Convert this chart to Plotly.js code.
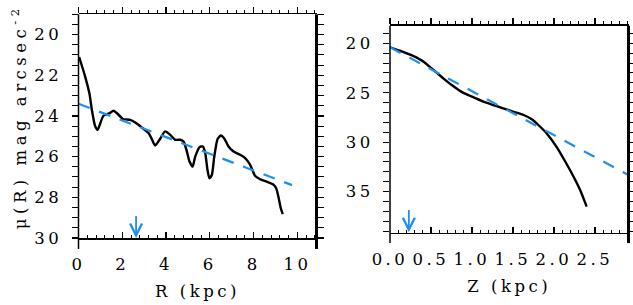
<!DOCTYPE html>
<html>
<head>
<meta charset="utf-8">
<script src="https://cdn.plot.ly/plotly-3.0.1.min.js"></script>
<style>
  html, body { margin: 0; padding: 0; background: #fff; }
  #chart { width: 633px; height: 305px; }
  .main-svg text { letter-spacing: 3.5px; }
  .main-svg .annotation-text { letter-spacing: 4.5px; }
</style>
</head>
<body>
<div id="chart"></div>
<script>
// ---- data ----
// Left panel: radial surface-brightness profile
const R = [0.03, 0.3, 0.5, 0.61, 0.76, 0.87, 1.14, 1.42, 1.6, 1.78, 2.03, 2.36, 2.59, 2.9, 3.2, 3.35, 3.5, 3.7, 3.96, 4.19, 4.42, 4.64, 4.8, 4.95, 5.07, 5.21, 5.33, 5.53, 5.68, 5.79, 5.89, 5.98, 6.09, 6.2, 6.35, 6.5, 6.65, 6.85, 7.08, 7.38, 7.61, 7.84, 8.07, 8.3, 8.6, 8.88, 9.03, 9.13, 9.24, 9.33];
const muR = [21.1, 22.05, 22.9, 23.7, 24.5, 24.68, 23.99, 23.86, 23.74, 23.89, 24.15, 24.19, 24.32, 24.57, 24.84, 25.14, 25.45, 25.17, 24.76, 24.93, 25.17, 25.17, 25.26, 25.75, 26.24, 26.49, 26.0, 25.53, 25.5, 25.83, 26.65, 27.06, 26.9, 26.0, 25.14, 24.96, 25.09, 25.5, 25.75, 25.91, 26.07, 26.4, 26.95, 27.11, 27.23, 27.36, 27.55, 27.97, 28.54, 28.83];
const fitR = [0, 9.75];
const fitMuR = [23.4, 27.4];
const arrowR = 2.63;

// Right panel: vertical surface-brightness profile
const Z = [0, 0.12, 0.28, 0.41, 0.53, 0.65, 0.77, 0.89, 1.02, 1.14, 1.26, 1.38, 1.5, 1.63, 1.73, 1.81, 1.91, 2.03, 2.15, 2.24, 2.32, 2.4];
const muZ = [20.4, 20.75, 21.28, 21.86, 22.7, 23.54, 24.32, 24.99, 25.46, 25.9, 26.24, 26.57, 26.91, 27.25, 27.68, 28.26, 29.1, 30.45, 32.13, 33.49, 34.83, 36.52];
const fitZ = [0, 2.95];
const fitMuZ = [20.4, 33.5];
const arrowZ = 0.23;

// labels
const yTitleLeft = "μ(R) mag arcsec<sup>-2</sup>";
const xTitleLeft = "R (kpc)";
const xTitleRight = "Z (kpc)";

// ---- styling ----
const BLUE = "#1e8ff0";
const FONT = { family: "DejaVu Serif", size: 16.5, color: "#000" };

const traces = [
  { x: R, y: muR, xaxis: "x", yaxis: "y", mode: "lines",
    line: { color: "#000", width: 2.4, shape: "spline", smoothing: 0.6 }, hoverinfo: "skip" },
  { x: fitR, y: fitMuR, xaxis: "x", yaxis: "y", mode: "lines",
    line: { color: BLUE, width: 2.2, dash: "12px,10px" }, hoverinfo: "skip" },
  { x: Z, y: muZ, xaxis: "x2", yaxis: "y2", mode: "lines",
    line: { color: "#000", width: 2.4, shape: "spline", smoothing: 0.6 }, hoverinfo: "skip" },
  { x: fitZ, y: fitMuZ, xaxis: "x2", yaxis: "y2", mode: "lines",
    line: { color: BLUE, width: 2.2, dash: "12px,10px" }, hoverinfo: "skip" },
  // invisible carriers for the top (outward-tick) axes
  { x: [null], y: [null], xaxis: "x3", yaxis: "y", mode: "lines", hoverinfo: "skip" },
  { x: [null], y: [null], xaxis: "x4", yaxis: "y2", mode: "lines", hoverinfo: "skip" }
];

const xL = [78.5 / 633, 316.5 / 633];
const yL = [(305 - 238) / 305, (305 - 14.3) / 305];
const xRd = [390 / 633, 628.5 / 633];
const yRd = [(305 - 232.7) / 305, (305 - 25.7) / 305];

const rangeXL = [0, 10.87];
const rangeYL = [30, 19];
const rangeXR = [0, 2.91];
const rangeYR = [39.15, 18.22];

function bottomAxis(domain, range, dtick, minorDtick, anchor, title, fmt) {
  return {
    domain: domain, range: range, anchor: anchor, autorange: false,
    dtick: dtick, tick0: 0, tickformat: fmt || "",
    ticks: "inside", ticklen: 6, tickwidth: 1.2, tickcolor: "#000",
    minor: { dtick: minorDtick, tick0: 0, ticks: "inside", ticklen: 3, tickwidth: 1, tickcolor: "#000" },
    showline: true, linecolor: "#000", linewidth: 1.5,
    showgrid: false, zeroline: false, automargin: false,
    tickfont: FONT, ticklabelstandoff: 11,
    title: { text: title, font: FONT, standoff: 12 }
  };
}
function topAxis(range, dtick, minorDtick, anchor, overlay) {
  return {
    overlaying: overlay, side: "top", anchor: anchor, range: range, autorange: false,
    dtick: dtick, tick0: 0, showticklabels: false,
    ticks: "outside", ticklen: 6, tickwidth: 1.2, tickcolor: "#000",
    minor: { dtick: minorDtick, tick0: 0, ticks: "outside", ticklen: 3, tickwidth: 1, tickcolor: "#000" },
    showline: true, linecolor: "#000", linewidth: 1.5,
    showgrid: false, zeroline: false, automargin: false
  };
}
function leftAxis(domain, range, dtick, minorDtick, anchor) {
  return {
    domain: domain, range: range, anchor: anchor, autorange: false,
    dtick: dtick, tick0: 0,
    ticks: "outside", ticklen: 6, tickwidth: 1.2, tickcolor: "#000",
    minor: { dtick: minorDtick, tick0: 0, ticks: "outside", ticklen: 3, tickwidth: 1, tickcolor: "#000" },
    mirror: "allticks",
    showline: false,
    showgrid: false, zeroline: false, automargin: false,
    tickfont: FONT, ticklabelstandoff: 6,
    title: { text: "" }
  };
}

const layout = {
  width: 633, height: 305,
  margin: { l: 0, r: 0, t: 0, b: 0, pad: 0 },
  paper_bgcolor: "#fff", plot_bgcolor: "#fff",
  showlegend: false,
  font: FONT,
  xaxis: bottomAxis(xL, rangeXL, 2, 0.4, "y", xTitleLeft),
  yaxis: leftAxis(yL, rangeYL, 2, 0.5, "x"),
  xaxis2: bottomAxis(xRd, rangeXR, 0.5, 0.1, "y2", xTitleRight, ".1f"),
  yaxis2: leftAxis(yRd, rangeYR, 5, 1, "x2"),
  xaxis3: topAxis(rangeXL, 2, 0.4, "y", "x"),
  xaxis4: topAxis(rangeXR, 0.5, 0.1, "y2", "x2"),
  shapes: [
    { type: "line", xref: "x domain", yref: "y domain", x0: 0, x1: 0, y0: -0.049, y1: 1, line: { color: "#000", width: 1.5 } },
    { type: "line", xref: "x domain", yref: "y domain", x0: 1, x1: 1, y0: -0.049, y1: 1, line: { color: "#000", width: 3 } },
    { type: "line", xref: "x2 domain", yref: "y2 domain", x0: 0, x1: 0, y0: -0.05, y1: 1, line: { color: "#000", width: 1.5 } },
    { type: "line", xref: "x2 domain", yref: "y2 domain", x0: 1, x1: 1, y0: -0.05, y1: 1, line: { color: "#000", width: 3 } }
  ],
  annotations: [
    // y-axis title of the left panel
    { text: yTitleLeft, xref: "paper", yref: "paper", x: 19 / 633, y: 1 - 117 / 305,
      xanchor: "center", yanchor: "middle", textangle: -90, showarrow: false, font: FONT },
    { x: arrowR, y: 30, xref: "x", yref: "y", axref: "x", ayref: "y", ax: arrowR, ay: 28.85,
      showarrow: true, arrowhead: 5, arrowsize: 1.3, arrowwidth: 1.8, arrowcolor: BLUE, text: "" },
    { x: arrowZ, y: 39.1, xref: "x2", yref: "y2", axref: "x2", ayref: "y2", ax: arrowZ, ay: 36.7,
      showarrow: true, arrowhead: 5, arrowsize: 1.3, arrowwidth: 1.8, arrowcolor: BLUE, text: "" }
  ]
};

Plotly.newPlot("chart", traces, layout, { staticPlot: true, displayModeBar: false });
</script>
</body>
</html>
